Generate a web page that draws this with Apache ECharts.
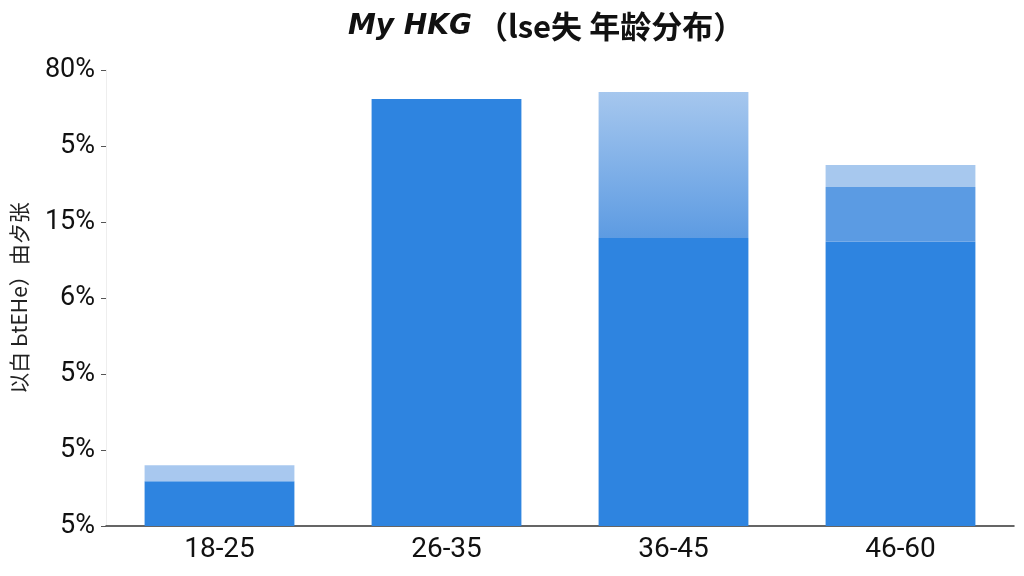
<!DOCTYPE html>
<html>
<head>
<meta charset="utf-8">
<script src="https://cdn.jsdelivr.net/npm/echarts@6/dist/echarts.min.js"></script>
<style>html,body{margin:0;padding:0;background:#fff;}#c{width:1024px;height:576px;}</style>
</head>
<body>
<div id="c"></div>
<script>
const categories = ['18-25', '26-35', '36-45', '46-60'];
const yTickLabels = ['5%', '5%', '5%', '6%', '15%', '5%', '80%'];
const baseValues = [0.59, 5.62, 3.79, 3.74];
const midValues = [0.21, 0, 1.92, 0.72];
const topValues = [0, 0, 0, 0.29];

const dark = '#2e84e0';
const midColors = [
  '#a8c8ef',
  '#5d9de3',
  {type:'linear',x:0,y:0,x2:0,y2:1,colorStops:[{offset:0,color:'#a6c7ee'},{offset:1,color:'#5d9be2'}]},
  '#5b9be3'
];
const light = '#a7c8ee';

const chart = echarts.init(document.getElementById('c'));
chart.setOption({
  animation: false,
  backgroundColor: '#ffffff',
  title: {
    text: '{a|My HKG} {b|（lse失 年龄分布）}',
    left: 343,
    top: 6,
    textStyle: {
      rich: {
        a: {fontFamily: 'DejaVu Sans', fontStyle: 'italic', fontWeight: 'bold', fontSize: 28, color: '#111'},
        b: {fontFamily: 'Noto Sans CJK SC', fontWeight: 'bold', fontSize: 31, color: '#111'}
      }
    }
  },
  grid: {left: 106, right: 10, top: 70, bottom: 50, outerBoundsMode: 'none', containLabel: false},
  xAxis: {
    type: 'category',
    data: categories,
    axisLine: {lineStyle: {color: '#333', width: 1.5}},
    axisTick: {alignWithLabel: true, length: 6, lineStyle: {color: '#333'}},
    axisLabel: {fontFamily: 'Roboto', fontSize: 28, color: '#111', margin: 10}
  },
  yAxis: {
    type: 'value',
    min: 0, max: 6, interval: 1,
    name: '以白 ЬtЕНe）由歺张',
    nameLocation: 'middle',
    nameRotate: 90,
    nameGap: 76,
    nameTextStyle: {fontFamily: 'Noto Sans CJK SC', fontSize: 21, color: '#222'},
    axisLine: {show: true, lineStyle: {color: '#eeeeee', width: 1}},
    axisTick: {show: true, length: 5, lineStyle: {color: '#555'}},
    splitLine: {show: false},
    axisLabel: {
      fontFamily: 'Roboto', fontSize: 27, color: '#111', margin: 11,
      formatter: function (v) { return yTickLabels[Math.round(v)]; }
    }
  },
  series: [
    {type: 'bar', stack: 's', barWidth: '66%', data: baseValues, itemStyle: {color: dark}},
    {type: 'bar', stack: 's', barWidth: '66%',
     data: midValues.map((v, i) => ({value: v, itemStyle: {color: midColors[i]}}))},
    {type: 'bar', stack: 's', barWidth: '66%', data: topValues, itemStyle: {color: light}}
  ]
});
</script>
</body>
</html>
